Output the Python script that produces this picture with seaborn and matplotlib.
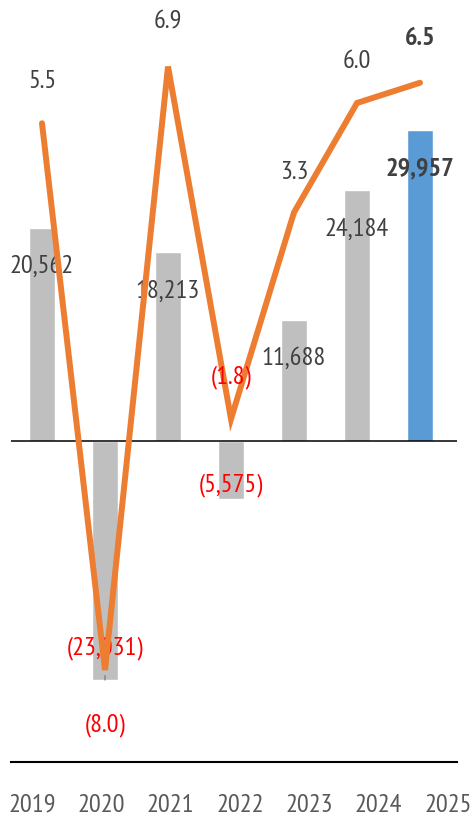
import numpy as np
import pandas as pd
import matplotlib
matplotlib.use("Agg")
import matplotlib.pyplot as plt
import seaborn as sns
from matplotlib import font_manager

# Trade balance (bars) and growth rate (line) by year
years = ["2019", "2020", "2021", "2022", "2023", "2024", "2025"]
balance = [20562, -23031, 18213, -5575, 11688, 24184, 29957]
growth = [5.5, -8.0, 6.9, -1.8, 3.3, 6.0, 6.5]

GREY_BAR = "#BFBFBF"
BLUE_BAR = "#5B9BD5"
ORANGE = "#ED7D31"
TEXT = "#404040"
TICK = "#595959"
NEG = "#FF0000"

sns.set_theme(style="white")
installed = {f.name for f in font_manager.fontManager.ttflist}
families = [f for f in ["PT Sans Narrow", "Liberation Sans Narrow", "DejaVu Sans"] if f in installed]
plt.rcParams["font.family"] = families
FS = 19


def fmt_int(v):
    return f"({abs(v):,})" if v < 0 else f"{v:,}"


def fmt_pct(v):
    return f"({abs(v):.1f})" if v < 0 else f"{v:.1f}"


df = pd.DataFrame({"year": years, "balance": balance, "growth": growth})
bar_colors = [GREY_BAR] * (len(years) - 1) + [BLUE_BAR]

fig = plt.figure(figsize=(4.73, 8.19), dpi=100)
ax = fig.add_axes([11 / 473, 57 / 819, 446 / 473, 762 / 819])

sns.barplot(data=df, x="year", y="balance", hue="year", palette=bar_colors,
            width=0.4, saturation=1, legend=False, ax=ax, zorder=2)
ax.set_xlim(-0.492, 6.587)
ax.set_ylim(-30919, 42477)
ax.axhline(0, color="black", lw=1.1, zorder=3)
for side in ["top", "right", "left"]:
    ax.spines[side].set_visible(False)
ax.spines["bottom"].set_color("black")
ax.spines["bottom"].set_linewidth(1.5)
ax.set_xticks([])
ax.set_yticks([])
ax.set_xlabel("")
ax.set_ylabel("")

# value labels sit inside the bar ends
bar_offsets = [-28, 23, -28, 10, -28, -28, -28]
for i, v in enumerate(balance):
    last = i == len(years) - 1
    ax.annotate(fmt_int(v), xy=(i, v), xytext=(0, bar_offsets[i]),
                textcoords="offset points", ha="center", va="center",
                fontsize=FS, color=NEG if v < 0 else TEXT,
                fontweight="bold" if last else "normal", zorder=4)

# growth line on its own scale
ax_line = ax.twinx()
sns.lineplot(x=np.arange(len(years)), y=growth, ax=ax_line, color=ORANGE,
             lw=4.3, solid_capstyle="round", solid_joinstyle="miter")
ax_line.set_ylim(-10.27, 8.543)
for s in ax_line.spines.values():
    s.set_visible(False)
ax_line.set_yticks([])
ax_line.set_ylabel("")

line_offsets = [30, -40, 32, 30, 29, 30, 32]
for i, v in enumerate(growth):
    last = i == len(years) - 1
    kw = {}
    if v <= -5:
        kw["arrowprops"] = dict(arrowstyle="-", color="#808080", lw=1,
                                shrinkA=22, shrinkB=4)
    ax_line.annotate(fmt_pct(v), xy=(i, v), xytext=(0, line_offsets[i]),
                     textcoords="offset points", ha="center", va="center",
                     fontsize=FS, color=NEG if v < 0 else TEXT,
                     fontweight="bold" if last else "normal", **kw)

# year labels along the bottom
ax_years = ax.twiny()
ax_years.set_xlim(-0.303, 6.130)
ax_years.set_xticks(range(len(years)))
ax_years.set_xticklabels(years, fontsize=FS, color=TICK)
ax_years.xaxis.set_ticks_position("bottom")
ax_years.xaxis.set_label_position("bottom")
ax_years.tick_params(axis="x", length=0, pad=23)
for s in ax_years.spines.values():
    s.set_visible(False)

fig.savefig("out.png", dpi=100)
